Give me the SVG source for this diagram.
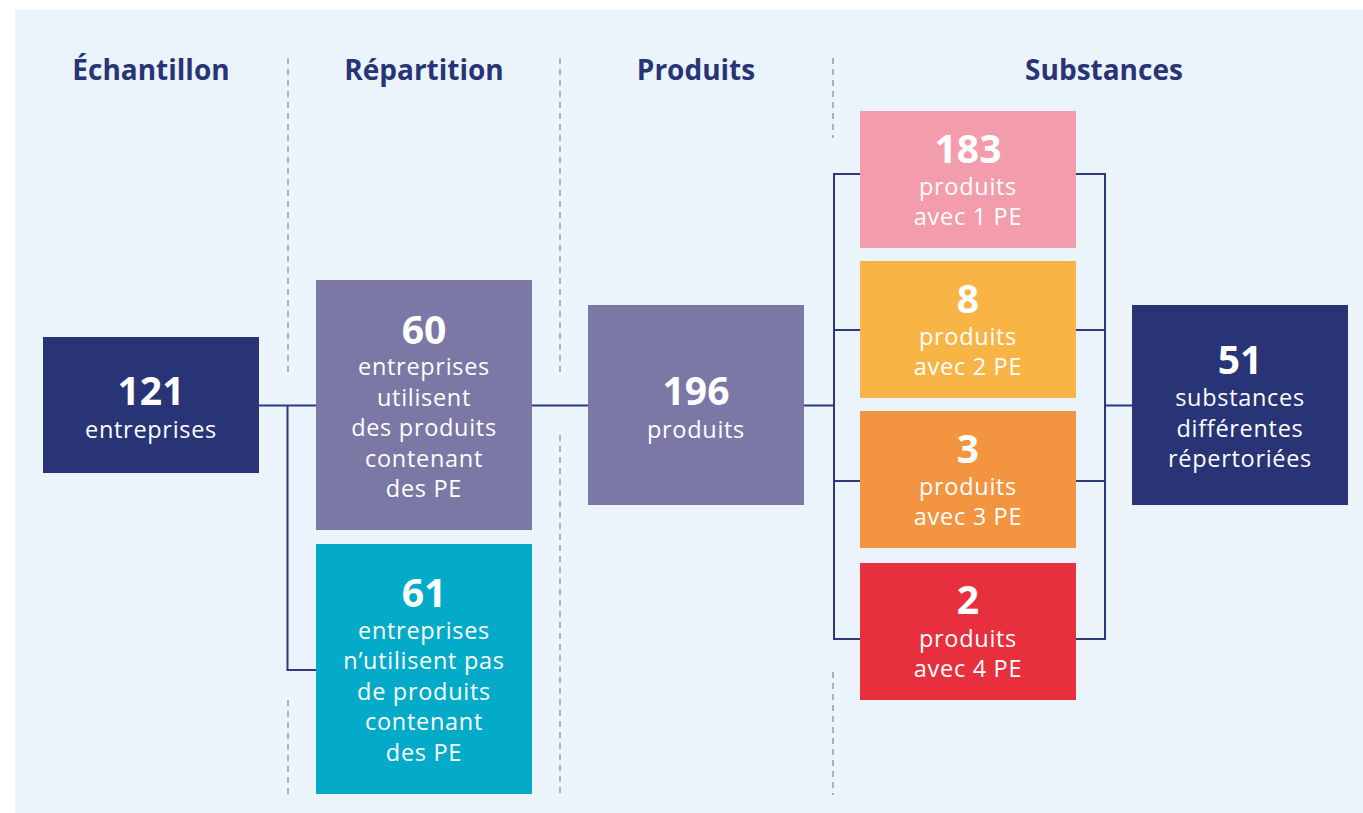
<svg xmlns="http://www.w3.org/2000/svg" width="1363" height="813" viewBox="0 0 1363 813">
<style>
.hdr{font-family:"Open Sans","Liberation Sans",sans-serif;font-weight:700;font-size:28px;fill:#283475;text-anchor:middle}
.num{font-family:"Open Sans","Liberation Sans",sans-serif;font-weight:700;font-size:39px;fill:#fff;text-anchor:middle}
.lbl{font-family:"Open Sans","Liberation Sans",sans-serif;font-weight:400;font-size:23.5px;letter-spacing:0.7px;fill:#fff;text-anchor:middle}
.dash{stroke:#9a9a9a;stroke-width:1.5;stroke-dasharray:6 5;fill:none}
.conn{stroke:#2B3A7A;stroke-width:2;fill:none}
</style>
<rect x="0" y="0" width="1363" height="813" fill="#ffffff"/>
<rect x="15" y="10" width="1348" height="803" fill="#EBF4FA"/>
<g id="headers">
<text class="hdr" x="151" y="80">Échantillon</text>
<text class="hdr" x="424" y="80">Répartition</text>
<text class="hdr" x="696" y="80">Produits</text>
<text class="hdr" x="1104" y="80">Substances</text>
</g>
<g id="separators">
<line class="dash" x1="288" y1="58" x2="288" y2="375"/>
<line class="dash" x1="288" y1="700" x2="288" y2="795"/>
<line class="dash" x1="560" y1="58" x2="560" y2="375"/>
<line class="dash" x1="560" y1="435" x2="560" y2="795"/>
<line class="dash" x1="833" y1="58" x2="833" y2="138"/>
<line class="dash" x1="833" y1="672" x2="833" y2="795"/>
</g>
<g id="connectors">
<polyline class="conn" points="259,405.5 316,405.5"/>
<polyline class="conn" points="287.5,405.5 287.5,670 316,670"/>
<polyline class="conn" points="532,405.5 588,405.5"/>
<polyline class="conn" points="804,405.5 834,405.5"/>
<polyline class="conn" points="860,174 834,174 834,639 860,639"/>
<polyline class="conn" points="834,330 860,330"/>
<polyline class="conn" points="834,481 860,481"/>
<polyline class="conn" points="1076,174 1105,174 1105,639 1076,639"/>
<polyline class="conn" points="1076,330 1105,330"/>
<polyline class="conn" points="1076,481 1105,481"/>
<polyline class="conn" points="1105,405.5 1132,405.5"/>
</g>
<g id="n121">
<rect x="43" y="337" width="216" height="136" fill="#283475"/>
<text class="num" x="151" y="405">121</text>
<text class="lbl" x="151" y="438">entreprises</text>
</g>
<g id="n60">
<rect x="316" y="280" width="216" height="250" fill="#7B78A6"/>
<text class="num" x="424" y="344">60</text>
<text class="lbl" x="424" y="375">entreprises</text>
<text class="lbl" x="424" y="406">utilisent</text>
<text class="lbl" x="424" y="436">des produits</text>
<text class="lbl" x="424" y="467">contenant</text>
<text class="lbl" x="424" y="497">des PE</text>
</g>
<g id="n61">
<rect x="316" y="544" width="216" height="250" fill="#04ABC8"/>
<text class="num" x="424" y="607">61</text>
<text class="lbl" x="424" y="639">entreprises</text>
<text class="lbl" x="424" y="669">n’utilisent pas</text>
<text class="lbl" x="424" y="700">de produits</text>
<text class="lbl" x="424" y="730">contenant</text>
<text class="lbl" x="424" y="761">des PE</text>
</g>
<g id="n196">
<rect x="588" y="305" width="216" height="200" fill="#7B78A6"/>
<text class="num" x="696" y="405">196</text>
<text class="lbl" x="696" y="438">produits</text>
</g>
<g id="n183">
<rect x="860" y="111" width="216" height="137" fill="#F39DAC"/>
<text class="num" x="968" y="163">183</text>
<text class="lbl" x="968" y="195">produits</text>
<text class="lbl" x="968" y="225">avec 1 PE</text>
</g>
<g id="n8">
<rect x="860" y="261" width="216" height="137" fill="#F8B444"/>
<text class="num" x="968" y="313">8</text>
<text class="lbl" x="968" y="345">produits</text>
<text class="lbl" x="968" y="375">avec 2 PE</text>
</g>
<g id="n3">
<rect x="860" y="411" width="216" height="137" fill="#F39440"/>
<text class="num" x="968" y="463">3</text>
<text class="lbl" x="968" y="495">produits</text>
<text class="lbl" x="968" y="525">avec 3 PE</text>
</g>
<g id="n2">
<rect x="860" y="563" width="216" height="137" fill="#E72F3E"/>
<text class="num" x="968" y="614">2</text>
<text class="lbl" x="968" y="647">produits</text>
<text class="lbl" x="968" y="677">avec 4 PE</text>
</g>
<g id="n51">
<rect x="1132" y="305" width="216" height="200" fill="#283475"/>
<text class="num" x="1240" y="374">51</text>
<text class="lbl" x="1240" y="406">substances</text>
<text class="lbl" x="1240" y="437">différentes</text>
<text class="lbl" x="1240" y="467">répertoriées</text>
</g>
</svg>
